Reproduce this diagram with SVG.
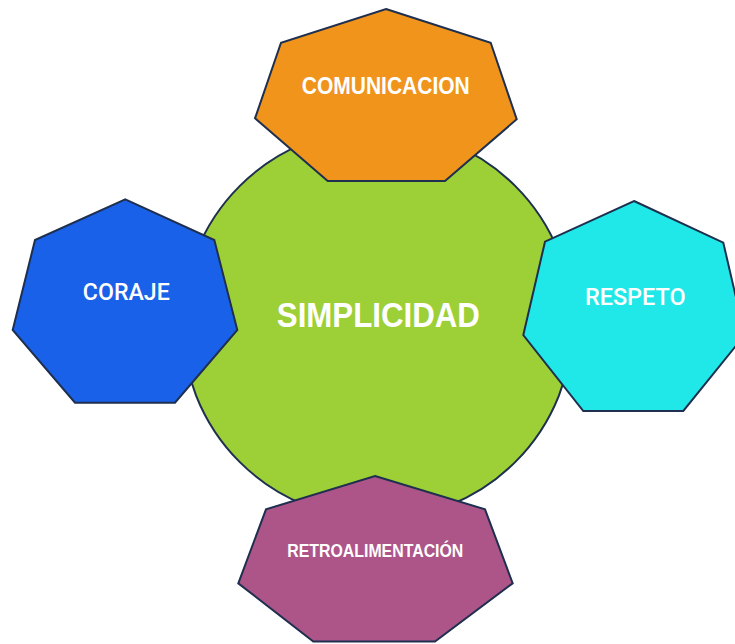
<svg xmlns="http://www.w3.org/2000/svg" width="735" height="644" viewBox="0 0 735 644">
<style>
.shape{stroke:#1E2F4F;stroke-width:2;stroke-linejoin:miter}
.lbl{fill:#ffffff;font-family:"Liberation Sans",Arial,sans-serif;font-weight:bold;text-anchor:middle}
.lblr{fill:#ffffff;font-family:Roboto,"Liberation Sans",sans-serif;font-weight:500;text-anchor:middle}
</style>
<rect width="735" height="644" fill="#ffffff"/>
<g id="simplicidad">
<circle class="shape" cx="377.5" cy="324" r="195" fill="#9DCF37"/>
<text class="lbl" x="378.3" y="326.7" font-size="35" textLength="203" lengthAdjust="spacingAndGlyphs">SIMPLICIDAD</text>
</g>
<g id="comunicacion">
<polygon class="shape" fill="#F0941C" points="386,9 490.7,42.7 516.7,119.3 445,181 327.7,181 255,118.3 281,42.7"/>
<text class="lbl" x="385.8" y="93.5" font-size="23" textLength="168" lengthAdjust="spacingAndGlyphs">COMUNICACION</text>
</g>
<g id="coraje">
<polygon class="shape" fill="#1A61EA" points="125.3,199.3 214.3,240 237.3,330 175,402.7 75,402.7 12.7,330 35,240"/>
<text class="lblr" x="126.3" y="300" font-size="23" textLength="87" lengthAdjust="spacingAndGlyphs">CORAJE</text>
</g>
<g id="respeto">
<polygon class="shape" fill="#20E8E8" points="634,201 723.3,242.7 744.7,335 683.3,411 583.3,411 523.3,335 545,241.7"/>
<text class="lblr" x="635.3" y="305" font-size="23" textLength="100.7" lengthAdjust="spacingAndGlyphs">RESPETO</text>
</g>
<g id="retroalimentacion">
<polygon class="shape" fill="#AD5588" points="375,476 485,509.3 512.7,583.3 435,641.5 313.3,641.5 238.3,583.3 266,509.3"/>
<text class="lbl" x="375.3" y="557.3" font-size="18" textLength="176" lengthAdjust="spacingAndGlyphs">RETROALIMENTACIÓN</text>
</g>
<g id="connectors"/>
</svg>
